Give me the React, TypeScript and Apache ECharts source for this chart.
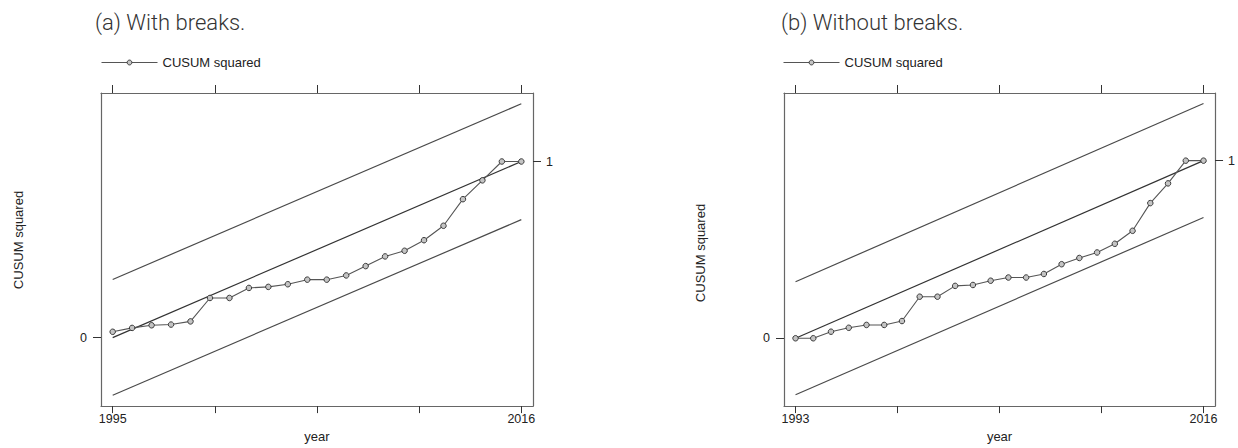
import React, { useEffect, useRef } from "react";
import * as echarts from "echarts";

// ---- data ----
const yearsA = [1995, 1996, 1997, 1998, 1999, 2000, 2001, 2002, 2003, 2004, 2005, 2006, 2007, 2008, 2009, 2010, 2011, 2012, 2013, 2014, 2015, 2016];
const cusumA = [0.033, 0.055, 0.07, 0.074, 0.092, 0.225, 0.225, 0.282, 0.288, 0.303, 0.329, 0.329, 0.353, 0.406, 0.461, 0.493, 0.553, 0.635, 0.786, 0.893, 1.0, 1.0];
const yearsB = [1993, 1994, 1995, 1996, 1997, 1998, 1999, 2000, 2001, 2002, 2003, 2004, 2005, 2006, 2007, 2008, 2009, 2010, 2011, 2012, 2013, 2014, 2015, 2016];
const cusumB = [0, 0, 0.037, 0.059, 0.075, 0.075, 0.097, 0.234, 0.234, 0.295, 0.3, 0.324, 0.342, 0.342, 0.362, 0.417, 0.452, 0.483, 0.532, 0.605, 0.761, 0.872, 1.0, 1.0];

// band / reference lines: [value at first year, value at last year]
const upperA = [0.33, 1.328];
const centerA = [0, 1];
const lowerA = [-0.327, 0.67];
const upperB = [0.318, 1.322];
const centerB = [0, 1];
const lowerB = [-0.318, 0.68];

const xTicksA = [1995, 2000.25, 2005.5, 2010.75, 2016];
const xLabelsA = [1995, 2016];
const xTicksB = [1993, 1998.75, 2004.5, 2010.25, 2016];
const xLabelsB = [1993, 2016];
const yTickLeft = [0];
const yTickRight = [1];

const titleA = "(a) With breaks.";
const titleB = "(b) Without breaks.";
const seriesName = "CUSUM squared";

const AXIS_COLOR = "#666";
const LABEL_COLOR = "#222";
const FONT = "Liberation Sans, Arial, sans-serif";

function xAxes(gridIndex: number, min: number, max: number, ticks: number[], labels: number[]) {
  const base = {
    type: "value",
    gridIndex,
    min,
    max,
    splitLine: { show: false },
    axisLine: { show: true, onZero: false, lineStyle: { color: AXIS_COLOR, width: 1.2 } },
  };
  return [
    {
      ...base,
      position: "bottom",
      name: "year",
      nameLocation: "middle",
      nameGap: 20,
      nameTextStyle: { fontFamily: FONT, fontSize: 13, color: LABEL_COLOR },
      axisTick: { show: true, length: 7, customValues: ticks, lineStyle: { color: "#333" } },
      axisLabel: { show: true, customValues: labels, margin: 6, fontFamily: FONT, fontSize: 12.5, color: LABEL_COLOR, formatter: (v: number) => String(Math.round(v)) },
    },
    {
      ...base,
      position: "top",
      axisTick: { show: true, length: 8, customValues: ticks, lineStyle: { color: "#333" } },
      axisLabel: { show: false },
    },
  ];
}

function yAxes(gridIndex: number, min: number, max: number) {
  const base = {
    type: "value",
    gridIndex,
    min,
    max,
    splitLine: { show: false },
    axisLine: { show: true, onZero: false, lineStyle: { color: AXIS_COLOR, width: 1.2 } },
  };
  return [
    {
      ...base,
      position: "left",
      axisTick: { show: true, length: 8, customValues: yTickLeft, lineStyle: { color: "#333" } },
      axisLabel: { show: true, customValues: yTickLeft, margin: 14, fontFamily: FONT, fontSize: 12.5, color: LABEL_COLOR },
    },
    {
      ...base,
      position: "right",
      axisTick: { show: true, length: 8, customValues: yTickRight, lineStyle: { color: "#333" } },
      axisLabel: { show: true, customValues: yTickRight, margin: 13, fontFamily: FONT, fontSize: 12.5, color: LABEL_COLOR },
    },
  ];
}

function refLine(xIdx: number, yIdx: number, years: number[], vals: number[], color: string) {
  return {
    type: "line",
    xAxisIndex: xIdx,
    yAxisIndex: yIdx,
    data: [
      [years[0], vals[0]],
      [years[years.length - 1], vals[1]],
    ],
    symbol: "none",
    silent: true,
    lineStyle: { color, width: 1.2 },
    z: 1,
  };
}

function dataLine(xIdx: number, yIdx: number, years: number[], vals: number[]) {
  return {
    name: seriesName,
    type: "line",
    xAxisIndex: xIdx,
    yAxisIndex: yIdx,
    data: years.map((y, i) => [y, vals[i]]),
    symbol: "circle",
    symbolSize: 5.5,
    showAllSymbol: true,
    itemStyle: { color: "#c4c4c4", borderColor: "#3a3a3a", borderWidth: 1 },
    lineStyle: { color: "#555", width: 1.1 },
    z: 3,
  };
}

function legendAt(left: number) {
  return {
    left,
    top: 56,
    padding: 0,
    data: [seriesName],
    itemWidth: 56,
    itemHeight: 6,
    itemGap: 4,
    selectedMode: false,
    lineStyle: { width: 1, color: "#555" },
    itemStyle: { color: "#c4c4c4", borderColor: "#3a3a3a", borderWidth: 1 },
    textStyle: { fontFamily: FONT, fontSize: 13, color: LABEL_COLOR },
  };
}

export default function App() {
  const ref = useRef<HTMLDivElement>(null);
  useEffect(() => {
    document.body.style.margin = "0";
    if (!ref.current) return;
    const chart = echarts.init(ref.current, null, { renderer: "svg" });
    const option = {
      animation: false,
      backgroundColor: "#fff",
      grid: [
        { left: 101, top: 93, width: 432, height: 321 },
        { left: 784, top: 93, width: 432, height: 321 },
      ],
      xAxis: [
        ...xAxes(0, 1994.4, 2016.6, xTicksA, xLabelsA),
        ...xAxes(1, 1992.35, 2016.65, xTicksB, xLabelsB),
      ],
      yAxis: [...yAxes(0, -0.389, 1.389), ...yAxes(1, -0.382, 1.381)],
      legend: [legendAt(101), legendAt(783)],
      graphic: [
        {
          type: "text",
          left: 95,
          top: 11,
          style: { text: titleA, font: "300 22px Roboto", fill: "#333" },
        },
        {
          type: "text",
          left: 781,
          top: 11,
          style: { text: titleB, font: "300 22px Roboto", fill: "#333" },
        },
        {
          type: "text",
          x: 18,
          y: 240,
          rotation: Math.PI / 2,
          style: { text: seriesName, font: "13px Liberation Sans", fill: LABEL_COLOR, align: "center", verticalAlign: "middle" },
        },
        {
          type: "text",
          x: 700,
          y: 253,
          rotation: Math.PI / 2,
          style: { text: seriesName, font: "13px Liberation Sans", fill: LABEL_COLOR, align: "center", verticalAlign: "middle" },
        },
      ],
      series: [
        refLine(0, 0, yearsA, upperA, "#4a4a4a"),
        refLine(0, 0, yearsA, centerA, "#333"),
        refLine(0, 0, yearsA, lowerA, "#4a4a4a"),
        dataLine(0, 0, yearsA, cusumA),
        refLine(2, 2, yearsB, upperB, "#4a4a4a"),
        refLine(2, 2, yearsB, centerB, "#333"),
        refLine(2, 2, yearsB, lowerB, "#4a4a4a"),
        dataLine(2, 2, yearsB, cusumB),
      ],
    };
    chart.setOption(option as any);
    return () => chart.dispose();
  }, []);
  return <div ref={ref} style={{ width: 1238, height: 448 }} />;
}
